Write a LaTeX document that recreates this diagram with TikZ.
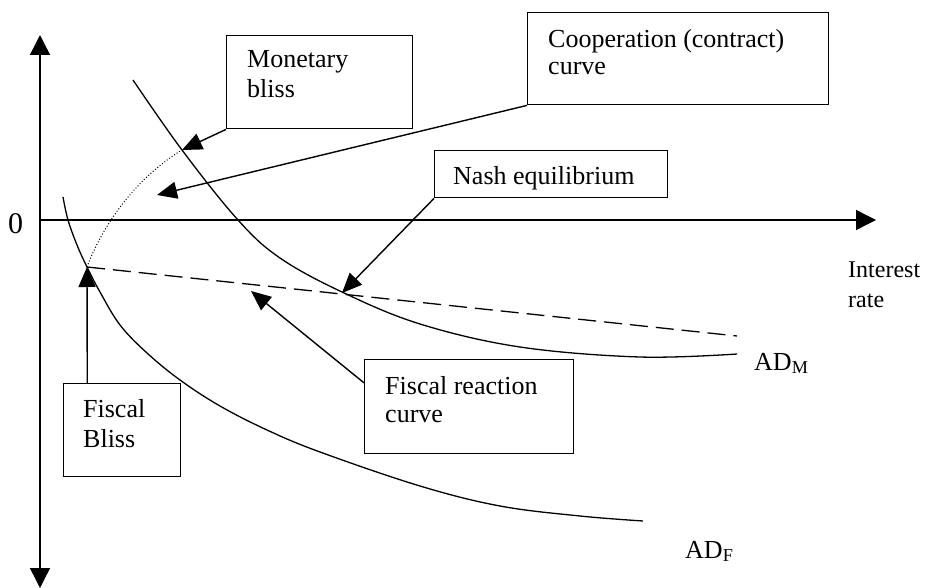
\documentclass[tikz,border=0pt]{standalone}
\usepackage{fontspec}
\setmainfont{Liberation Serif}
\usetikzlibrary{arrows.meta,calc}
\begin{document}
\begin{tikzpicture}[x=1pt,y=-1pt,
  axis/.style={line width=1.4pt},
  box/.style={draw, line width=1.4pt, anchor=north west, inner sep=0pt},
  lbl/.style={anchor=base west, inner sep=0pt, font=\fontsize{26}{29}\selectfont},
  ptr/.style={line width=1.4pt, -{Triangle[length=20pt,width=17pt]}},
  curvestyle/.style={line width=1.3pt, line join=round}]
\useasboundingbox (0,0) rectangle (928,588);
% axes
\coordinate (ytop) at (40,35);
\coordinate (ybot) at (40,588);
\coordinate (o) at (40,220);
\coordinate (xend) at (876,220);
\draw[axis, {Triangle[length=20pt,width=20pt]}-{Triangle[length=20pt,width=20pt]}] (ybot) -- (ytop);
\draw[axis, -{Triangle[length=20pt,width=20pt]}] (o) -- (xend);
\node[anchor=base west, inner sep=0pt, font=\fontsize{30}{33}\selectfont] (zero) at (8,233) {0};
% key points
\coordinate (mb) at (182,150);
\coordinate (fb) at (87,267);
\coordinate (ne) at (342,293);
\coordinate (ct) at (157,195);
\coordinate (fr) at (251,291);
\coordinate (dashend) at (737,336);
% curves
\draw[curvestyle] plot[smooth, tension=0.6] coordinates {(133,80) (182,150) (238,220) (280,258) (342,292) (420,324) (520,347) (640,357) (737,354)};
\draw[curvestyle] plot[smooth, tension=0.6] coordinates {(63,197) (68,220) (77,245) (87,267) (100,292) (120,325) (147,353) (180,380) (220,406) (267,430) (320,452) (420,486) (500,506) (580,516) (643,521)};
\draw[line width=1.3pt, dash pattern=on 18pt off 8pt] (fb) -- (dashend);
\draw[line width=1pt, dotted] (fb) .. controls (97,240) and (125,185) .. (mb);
% boxes
\node[box, minimum width=186pt, minimum height=93pt] (mon) at (226,35) {};
\node[box, minimum width=301pt, minimum height=92pt] (coop) at (527,12) {};
\node[box, minimum width=233pt, minimum height=47pt] (nash) at (434,150) {};
\node[box, minimum width=209pt, minimum height=94pt] (frc) at (364,359) {};
\node[box, minimum width=117pt, minimum height=93pt] (fbb) at (63,383) {};
% texts
\node[lbl] (t1) at (247,68) {Monetary};
\node[lbl] (t2) at (247,98) {bliss};
\node[lbl] (t3) at (548,48) {Cooperation (contract)};
\node[lbl] (t4) at (548,75) {curve};
\node[lbl] (t5) at (453,185) {Nash equilibrium};
\node[lbl] (t6) at (385,394) {Fiscal reaction};
\node[lbl] (t7) at (385,422) {curve};
\node[lbl] (t8) at (83,417) {Fiscal};
\node[lbl] (t9) at (83,447) {Bliss};
\node[lbl, font=\fontsize{24}{27}\selectfont] (t10) at (848,277) {Interest};
\node[lbl, font=\fontsize{24}{27}\selectfont] (t11) at (848,307) {rate};
\node[lbl] (adm) at (754,370) {AD\textsubscript{M}};
\node[lbl] (adf) at (685,558) {AD\textsubscript{F}};
% pointers
\draw[ptr] (mon.south west) -- (mb);
\draw[ptr] (coop.south west) -- (ct);
\draw[ptr] (nash.south west) -- (ne);
\draw[ptr] ($(frc.north west)!0.25!(frc.south west)$) -- (fr);
\draw[ptr] ($(fbb.north west)!0.205!(fbb.north east)$) -- (fb);
\end{tikzpicture}
\end{document}
